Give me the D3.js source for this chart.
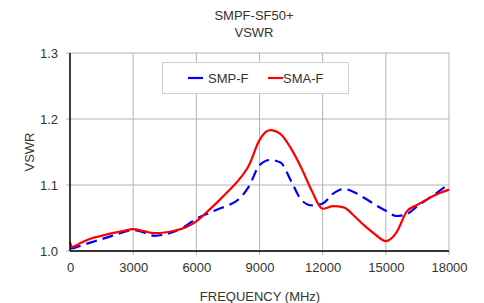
<!DOCTYPE html>
<html>
<head>
<meta charset="utf-8">
<script src="https://cdn.jsdelivr.net/npm/d3@7"></script>
<style>
  body { margin: 0; background: #fff; }
  svg text { font-family: "Liberation Sans", Arial, sans-serif; fill: #333; }
</style>
</head>
<body>
<div id="chart"></div>
<script>
// frequencies in MHz
var freqMHz = [0, 100, 500, 1000, 1500, 2000, 2500, 3000, 3500, 4000, 4500, 5000, 5500, 6000,
    6500, 7000, 7500, 8000, 8500, 9000, 9500, 10000, 10500, 11000, 11500, 12000, 12500,
    13000, 13500, 14000, 14500, 15000, 15500, 16000, 16500, 17000, 17500, 18000];
var smpF = [1.004, 1.004, 1.008, 1.013, 1.018, 1.023, 1.028, 1.032, 1.028, 1.023, 1.025, 1.030,
    1.038, 1.049, 1.056, 1.063, 1.069, 1.078, 1.098, 1.130, 1.138, 1.134, 1.106, 1.077,
    1.069, 1.072, 1.087, 1.094, 1.089, 1.080, 1.070, 1.061, 1.053, 1.056, 1.068, 1.079,
    1.090, 1.102];
var smaF = [1.013, 1.006, 1.012, 1.019, 1.023, 1.027, 1.030, 1.033, 1.030, 1.027, 1.028, 1.031,
    1.036, 1.045, 1.059, 1.074, 1.090, 1.107, 1.130, 1.168, 1.183, 1.177, 1.155, 1.125,
    1.090, 1.064, 1.068, 1.066, 1.053, 1.038, 1.025, 1.015, 1.028, 1.060, 1.070, 1.079,
    1.087, 1.093];
var xTicks = [0, 3000, 6000, 9000, 12000, 15000, 18000];
var yTicks = [1.0, 1.1, 1.2, 1.3];
var seriesNames = ["SMP-F", "SMA-F"];
var seriesColors = ["#0000ff", "#ff0000"];

var width = 484, height = 303;
var margin = { top: 53, right: 35, bottom: 52, left: 70 };

var svg = d3.select("#chart").append("svg")
    .attr("width", width)
    .attr("height", height);

var x = d3.scaleLinear().domain([0, 18000]).range([margin.left, width - margin.right]);
var y = d3.scaleLinear().domain([1.0, 1.3]).range([height - margin.bottom, margin.top]);

// grid
svg.append("g")
    .selectAll("line")
    .data(xTicks.slice(1))
    .enter()
    .append("line")
    .attr("x1", function (d) { return x(d); })
    .attr("x2", function (d) { return x(d); })
    .attr("y1", y(1.3))
    .attr("y2", y(1.0) + 4)
    .style("stroke", "#b4b4b4")
    .style("stroke-width", "1px");
svg.append("g")
    .selectAll("line")
    .data(yTicks)
    .enter()
    .append("line")
    .attr("x1", x(0) - 4)
    .attr("x2", x(18000))
    .attr("y1", function (d) { return y(d); })
    .attr("y2", function (d) { return y(d); })
    .style("stroke", "#b4b4b4")
    .style("stroke-width", "1px");

// axes
var xAxis = d3.axisBottom(x).tickValues(xTicks).tickSize(0).tickPadding(12)
    .tickFormat(d3.format("d"));
var yAxis = d3.axisLeft(y).tickValues(yTicks).tickSize(0).tickPadding(12)
    .tickFormat(d3.format(".1f"));

var gx = svg.append("g")
    .attr("transform", "translate(0," + y(1.0) + ")")
    .call(xAxis);
var gy = svg.append("g")
    .attr("transform", "translate(" + x(0) + ",0)")
    .call(yAxis);
[gx, gy].forEach(function (g) {
    g.select(".domain").remove();
    g.selectAll("text").style("font-size", "13px").style("fill", "#333");
});

// lines
var line = function (vals) {
    return d3.line()
        .x(function (d, i) { return x(freqMHz[i]); })
        .y(function (d) { return y(d); })
        .curve(d3.curveMonotoneX)(vals);
};
svg.append("path")
    .attr("d", line(smpF))
    .attr("fill", "none")
    .style("stroke", seriesColors[0])
    .style("stroke-width", "2.2px")
    .style("stroke-dasharray", "11,6");
svg.append("path")
    .attr("d", line(smaF))
    .attr("fill", "none")
    .style("stroke", seriesColors[1])
    .style("stroke-width", "2.2px");

// axis lines on top
svg.append("line")
    .attr("x1", x(0)).attr("x2", x(0))
    .attr("y1", y(1.3)).attr("y2", y(1.0))
    .style("stroke", "#000").style("stroke-width", "1.5px");
svg.append("line")
    .attr("x1", x(0)).attr("x2", x(18000))
    .attr("y1", y(1.0)).attr("y2", y(1.0))
    .style("stroke", "#000").style("stroke-width", "1.5px");

// legend
var legend = svg.append("g");
legend.append("rect")
    .attr("x", 162.5).attr("y", 62.5)
    .attr("width", 186).attr("height", 31)
    .attr("fill", "#fff")
    .style("stroke", "#cfcfcf");
var legendX = [188, 268];
seriesNames.forEach(function (name, i) {
    legend.append("line")
        .attr("x1", legendX[i]).attr("x2", legendX[i] + 15)
        .attr("y1", 78).attr("y2", 78)
        .style("stroke", seriesColors[i])
        .style("stroke-width", "2.2px");
    legend.append("text")
        .attr("x", legendX[i] + (i === 0 ? 20 : 15))
        .attr("y", 82.5)
        .style("font-size", "13px")
        .text(name);
});

// titles
svg.append("text")
    .attr("x", 254).attr("y", 20)
    .attr("text-anchor", "middle")
    .style("font-size", "13px")
    .text("SMPF-SF50+");
svg.append("text")
    .attr("x", 254).attr("y", 37)
    .attr("text-anchor", "middle")
    .style("font-size", "13px")
    .text("VSWR");
svg.append("text")
    .attr("x", 260).attr("y", 301)
    .attr("text-anchor", "middle")
    .style("font-size", "13px")
    .text("FREQUENCY (MHz)");
svg.append("text")
    .attr("transform", "translate(34," + 152 + ") rotate(-90)")
    .attr("text-anchor", "middle")
    .style("font-size", "13px")
    .text("VSWR");
</script>
</body>
</html>
